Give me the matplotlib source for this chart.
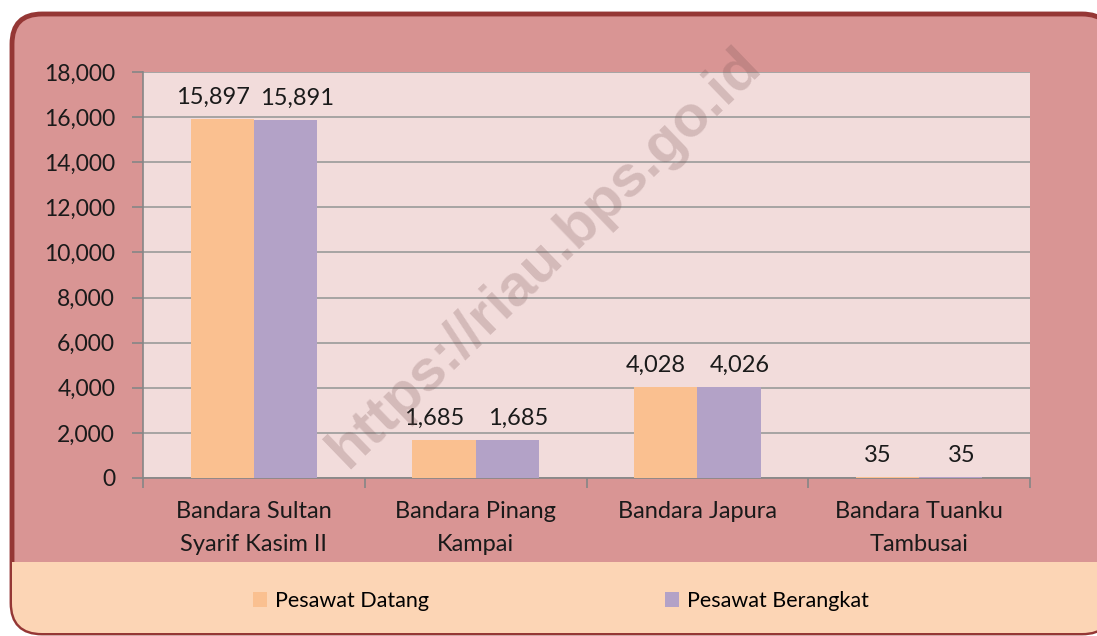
import matplotlib.pyplot as plt
import numpy as np
from matplotlib.patches import FancyBboxPatch, Rectangle

plt.rcParams['font.family'] = ['Lato', 'DejaVu Sans']

# data
bandara = ["Bandara Sultan\nSyarif Kasim II", "Bandara Pinang\nKampai", "Bandara Japura", "Bandara Tuanku\nTambusai"]
datang = [15897, 1685, 4028, 35]
berangkat = [15891, 1685, 4026, 35]
yticks = [0, 2000, 4000, 6000, 8000, 10000, 12000, 14000, 16000, 18000]

W, H = 1097, 636
fig = plt.figure(figsize=(W / 100, H / 100), dpi=100)
fig.patch.set_facecolor("white")

# background frame (pixel coords)
bg = fig.add_axes([0, 0, 1, 1], zorder=0)
bg.set_xlim(0, W)
bg.set_ylim(H, 0)
bg.axis("off")
frame = FancyBboxPatch((12, 14), 1100, 619, boxstyle="round,pad=0,rounding_size=30",
                       facecolor="#D99594", edgecolor="#953735", linewidth=3.5)
bg.add_patch(frame)
band = Rectangle((12, 562), 1100, 71, facecolor="#FCD5B5", edgecolor="none")
band.set_clip_path(frame)
bg.add_patch(band)

# main chart
ax = fig.add_axes([143 / W, 1 - 478 / H, 887 / W, 406 / H], zorder=1)
ax.set_facecolor("#F2DCDB")
x = np.arange(len(bandara))
w = 0.285
b1 = ax.bar(x - w / 2, datang, w, color="#FAC090", label="Pesawat Datang", zorder=3)
b2 = ax.bar(x + w / 2, berangkat, w, color="#B3A2C7", label="Pesawat Berangkat", zorder=3)

# labels nudged apart so neighbours don't collide
for bars, dx in ((b1, -7), (b2, 8)):
    for r in bars:
        ax.annotate(f"{int(r.get_height()):,}", (r.get_x() + r.get_width() / 2, r.get_height()),
                    xytext=(dx, 8), textcoords="offset points", ha="center", va="bottom",
                    fontsize=17, color="#1a1a1a")

ax.set_xlim(-0.5, 3.5)
ax.set_ylim(0, 18000)
ax.set_yticks(yticks)
ax.set_yticklabels([f"{v:,}" for v in yticks], fontsize=16.5, color="#1a1a1a")
ax.grid(axis="y", color="#9a9a9a", linewidth=1.2, zorder=0)
ax.set_axisbelow(True)

ax.set_xticks(np.arange(-0.5, 4, 1))
ax.set_xticklabels([])
ax.set_xticks(x, minor=True)
ax.set_xticklabels(bandara, minor=True, fontsize=17, color="#1a1a1a", linespacing=1.7)
ax.tick_params(axis="x", which="minor", length=0, pad=16.5)
ax.tick_params(axis="x", which="major", length=7, color="#868686", width=1.2)
ax.tick_params(axis="y", length=8, color="#868686", width=1.2, pad=12)
for s in ["top", "right"]:
    ax.spines[s].set_visible(False)
for s in ["left", "bottom"]:
    ax.spines[s].set_color("#868686")
    ax.spines[s].set_linewidth(1.2)

fig.legend(handles=[b1, b2], loc="center", bbox_to_anchor=(561 / W, 1 - 601 / H), ncol=2,
           frameon=False, fontsize=15.5, handlelength=0.65, handleheight=0.65, handletextpad=0.35,
           columnspacing=11.0)

# watermark
fig.text(545 / W, 1 - 258 / H, "https://riau.bps.go.id", rotation=44, ha="center", va="center",
         fontsize=42, fontweight="bold", color="#7a5555", alpha=0.25, family="Liberation Sans",
         zorder=5)

fig.savefig("out.png", dpi=100)
